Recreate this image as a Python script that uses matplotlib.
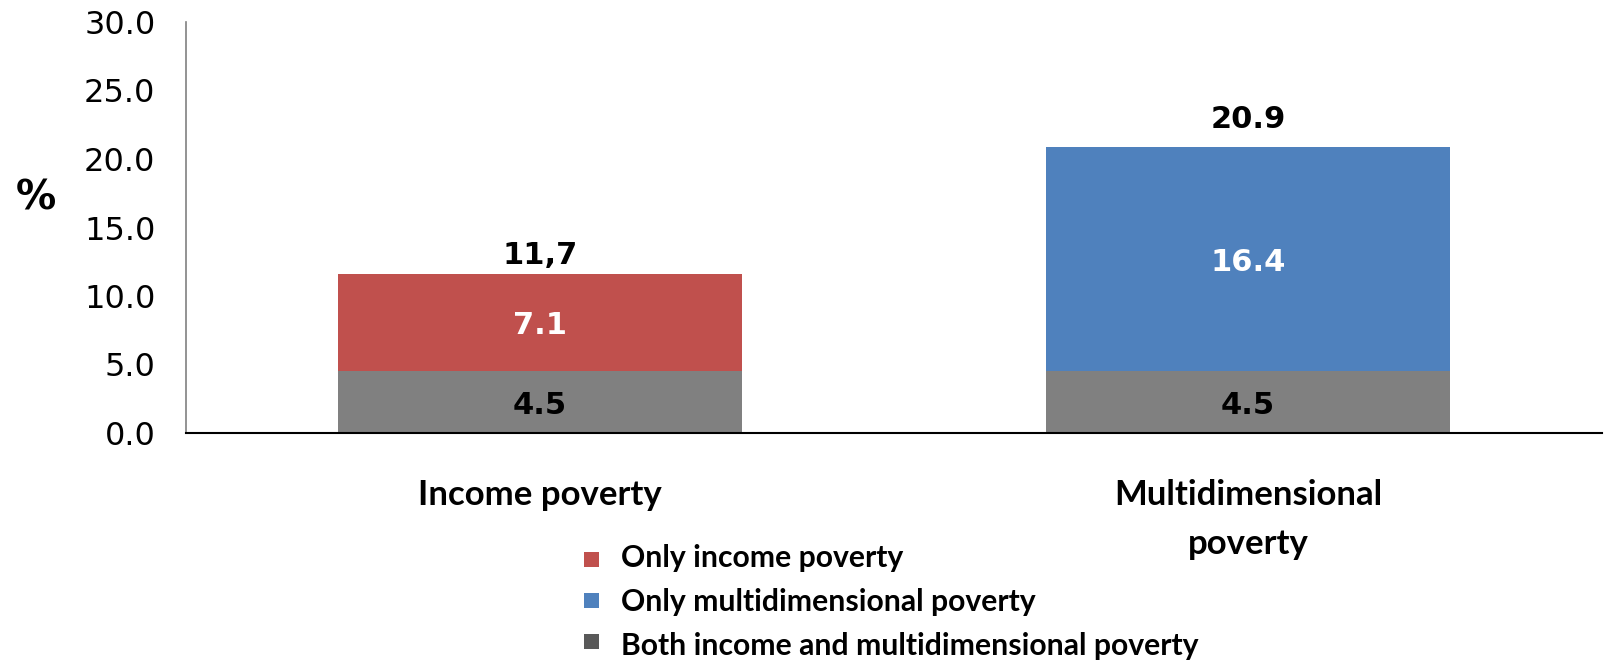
import matplotlib
matplotlib.use("Agg")
import matplotlib.pyplot as plt
from matplotlib.patches import Rectangle

categories = ["Income poverty", "Multidimensional\npoverty"]
both = [4.5, 4.5]
only_income = [7.1, 0.0]
only_multi = [0.0, 16.4]
total_labels = ["11,7", "20.9"]
yticks = [0, 5, 10, 15, 20, 25, 30]
legend_labels = ["Only income poverty", "Only multidimensional poverty",
                 "Both income and multidimensional poverty"]

c_red = "#C0504D"
c_blue = "#4F81BD"
c_gray = "#808080"
c_gray_leg = "#595959"

W, H = 1610, 660
fig = plt.figure(figsize=(W/100, H/100), dpi=100)
ax = fig.add_axes([186/W, 1-433/H, (1602-186)/W, (433-22)/H])

x = [0, 1]
w = 0.572
ax.bar(x, both, w, color=c_gray)
ax.bar(x, only_income, w, bottom=both, color=c_red)
bottom2 = [b + o for b, o in zip(both, only_income)]
ax.bar(x, only_multi, w, bottom=bottom2, color=c_blue)

vfont = dict(fontsize=22, fontweight="bold", family="DejaVu Sans")
total_offsets = [7, 13.5]
for i in range(2):
    ax.text(x[i], both[i] / 2, f"{both[i]:.1f}", ha="center", va="center_baseline",
            color="black", **vfont)
    if only_income[i] > 0:
        ax.text(x[i], both[i] + only_income[i] / 2, f"{only_income[i]:.1f}",
                ha="center", va="center_baseline", color="white", **vfont)
    if only_multi[i] > 0:
        ax.text(x[i], bottom2[i] + only_multi[i] / 2, f"{only_multi[i]:.1f}",
                ha="center", va="center_baseline", color="white", **vfont)
    top = bottom2[i] + only_multi[i]
    ax.annotate(total_labels[i], (x[i], top), xytext=(0, total_offsets[i]),
                textcoords="offset points", ha="center", va="baseline",
                color="black", **vfont)

ax.set_xlim(-0.5, 1.5)
ax.set_ylim(0, 30)
ax.set_yticks(yticks)
ax.set_yticklabels([f"{t:.1f}" for t in yticks], fontsize=23, family="DejaVu Sans")
ax.tick_params(axis="y", length=0, pad=22)
ax.set_xticks(x)
ax.set_xticklabels(categories, fontsize=25, fontweight="bold", family="Lato",
                   va="top", linespacing=1.65)
ax.tick_params(axis="x", length=0, pad=33)
for s in ["top", "right"]:
    ax.spines[s].set_visible(False)
ax.spines["left"].set_color("#808080")
ax.spines["left"].set_linewidth(1.2)
ax.spines["bottom"].set_color("black")
ax.spines["bottom"].set_linewidth(1.5)

fig.text(36/W, 1-199/H, "%", ha="center", va="center", fontsize=29,
         fontweight="bold", family="DejaVu Sans")

# legend (manual layout)
leg_colors = [c_red, c_blue, c_gray_leg]
for k, (lab, col) in enumerate(zip(legend_labels, leg_colors)):
    yb = 567 + 44 * k
    ym = 559 + 41 * k
    fig.patches.append(Rectangle((584/W, 1-(ym+7.5)/H), 15/W, 15/H,
                                 transform=fig.transFigure,
                                 facecolor=col, edgecolor="none"))
    fig.text(621/W, 1-yb/H, lab, ha="left", va="baseline", fontsize=21.7,
             fontweight="bold", family="Lato")

fig.savefig("out.png", dpi=100)
